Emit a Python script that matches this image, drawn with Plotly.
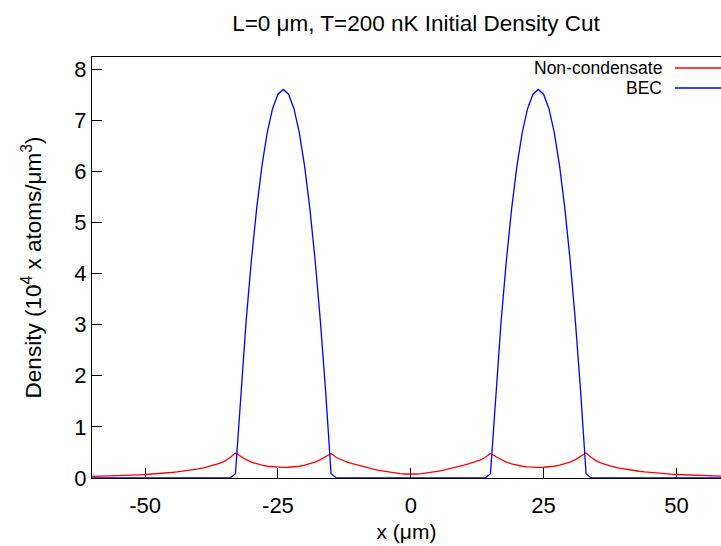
import plotly.graph_objects as go

# Sample grid (um)
x_um = [-60, -59, -58, -57, -56, -55, -54, -53, -52, -51, -50, -49, -48, -47, -46, -45, -44, -43, -42, -41,
        -40, -39, -38, -37, -36, -35, -34, -33, -32, -31, -30, -29, -28, -27, -26, -25, -24, -23, -22, -21,
        -20, -19, -18, -17, -16, -15, -14, -13, -12, -11, -10, -9, -8, -7, -6, -5, -4, -3, -2, -1,
        0,
        1, 2, 3, 4, 5, 6, 7, 8, 9, 10, 11, 12, 13, 14, 15, 16, 17, 18, 19, 20,
        21, 22, 23, 24, 25, 26, 27, 28, 29, 30, 31, 32, 33, 34, 35, 36, 37, 38, 39, 40,
        41, 42, 43, 44, 45, 46, 47, 48, 49, 50, 51, 52, 53, 54, 55, 56, 57, 58, 59, 60]

# Non-condensate (thermal) density, 10^4 atoms/um^3
non_condensate = [
    0.032, 0.034, 0.037, 0.040, 0.043, 0.046, 0.050, 0.054, 0.058, 0.063,
    0.068, 0.074, 0.081, 0.089, 0.098, 0.108, 0.119, 0.132, 0.146, 0.162,
    0.180, 0.200, 0.225, 0.250, 0.285, 0.330, 0.400, 0.490, 0.420, 0.360,
    0.310, 0.275, 0.250, 0.230, 0.218, 0.210, 0.207, 0.210, 0.218, 0.230,
    0.250, 0.275, 0.310, 0.360, 0.420, 0.480, 0.400, 0.350, 0.312, 0.280,
    0.250, 0.222, 0.196, 0.172, 0.150, 0.130, 0.112, 0.097, 0.085, 0.078,
    0.075,
    0.078, 0.085, 0.097, 0.112, 0.130, 0.150, 0.172, 0.196, 0.222, 0.250,
    0.280, 0.312, 0.350, 0.400, 0.480, 0.420, 0.360, 0.310, 0.275, 0.250,
    0.230, 0.218, 0.210, 0.207, 0.210, 0.218, 0.230, 0.250, 0.275, 0.310,
    0.360, 0.420, 0.490, 0.400, 0.330, 0.285, 0.250, 0.225, 0.200, 0.180,
    0.162, 0.146, 0.132, 0.119, 0.108, 0.098, 0.089, 0.081, 0.074, 0.068,
    0.063, 0.058, 0.054, 0.050, 0.046, 0.043, 0.040, 0.037, 0.034, 0.032]

# Condensate (BEC) density, 10^4 atoms/um^3
bec = [
    0, 0, 0, 0, 0, 0, 0, 0, 0, 0,
    0, 0, 0, 0, 0, 0, 0, 0, 0, 0,
    0, 0, 0, 0, 0, 0, 0, 0.084, 1.661, 3.053,
    4.259, 5.280, 6.115, 6.765, 7.229, 7.507, 7.600, 7.507, 7.229, 6.765,
    6.115, 5.280, 4.259, 3.053, 1.661, 0.084, 0, 0, 0, 0,
    0, 0, 0, 0, 0, 0, 0, 0, 0, 0,
    0,
    0, 0, 0, 0, 0, 0, 0, 0, 0, 0,
    0, 0, 0, 0, 0.084, 1.661, 3.053, 4.259, 5.280, 6.115,
    6.765, 7.229, 7.507, 7.600, 7.507, 7.229, 6.765, 6.115, 5.280, 4.259,
    3.053, 1.661, 0.084, 0, 0, 0, 0, 0, 0, 0,
    0, 0, 0, 0, 0, 0, 0, 0, 0, 0,
    0, 0, 0, 0, 0, 0, 0, 0, 0, 0]

x_ticks = [-50, -25, 0, 25, 50]
x_tick_labels = ["-50", "-25", "0", "25", "50"]
y_ticks = [0, 1, 2, 3, 4, 5, 6, 7, 8]
series_names = ["Non-condensate", "BEC"]
series_colors = ["#ff0000", "#0000ff"]

FONT = "Liberation Sans, Arial, sans-serif"
W, H = 721, 546
L, R, T, B = 92, 0, 57, 68

fig = go.Figure()
fig.add_trace(go.Scatter(x=x_um, y=non_condensate, mode="lines", name=series_names[0],
                         line=dict(color=series_colors[0], width=1.3), showlegend=False))
fig.add_trace(go.Scatter(x=x_um, y=bec, mode="lines", name=series_names[1],
                         line=dict(color=series_colors[1], width=1.3), showlegend=False))

pw = W - L - R
# gnuplot-style key: right-aligned text with sample line to its right
for i, (name, col) in enumerate(zip(series_names, series_colors)):
    ypix = 68 + 20 * i
    yp = 1 - (ypix - T) / (H - T - B)
    fig.add_annotation(x=(664 - L) / pw, y=yp, xref="paper", yref="paper",
                       text=name, showarrow=False, xanchor="right", yanchor="middle",
                       font=dict(family=FONT, size=17.5, color="black"))
    fig.add_shape(type="line", xref="paper", yref="paper",
                  x0=(675 - L) / pw, x1=1.0, y0=yp, y1=yp,
                  line=dict(color=col, width=1.3))

fig.update_layout(
    width=W, height=H,
    margin=dict(l=L, r=R, t=T, b=B, autoexpand=False),
    paper_bgcolor="white", plot_bgcolor="white",
    font=dict(family=FONT, size=22, color="black"),
    title=dict(text="L=0 μm, T=200 nK Initial Density Cut", x=(416 - L) / pw, xref="paper",
               xanchor="center", y=1 - 23 / H, yanchor="middle",
               font=dict(family=FONT, size=22.5, color="black")),
    showlegend=False,
)
fig.update_xaxes(range=[-60, 58.4], tickmode="array", tickvals=x_ticks, ticktext=x_tick_labels,
                 ticks="inside", ticklen=10, tickcolor="black", tickwidth=1,
                 showline=True, linecolor="black", linewidth=1, mirror=True,
                 showgrid=False, zeroline=False, layer="below traces",
                 ticklabelstandoff=8,
                 title=dict(text="x (μm)", standoff=6, font=dict(size=21)),
                 tickfont=dict(size=22), automargin=False)
fig.update_yaxes(range=[0, 8.235], tickmode="array", tickvals=y_ticks,
                 ticks="inside", ticklen=10, tickcolor="black", tickwidth=1,
                 showline=True, linecolor="black", linewidth=1,
                 showgrid=False, zeroline=False, layer="below traces",
                 title=dict(text="Density (10<sup>4</sup> x atoms/μm<sup>3</sup>)", standoff=26,
                            font=dict(size=22.5)),
                 tickfont=dict(size=22), automargin=False)

fig.write_html("out.html")
